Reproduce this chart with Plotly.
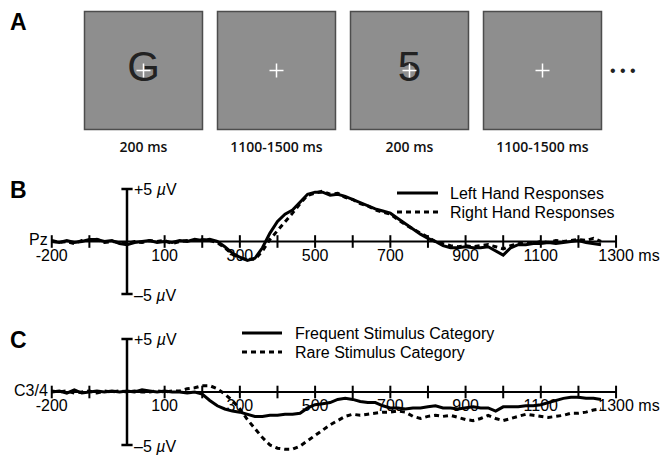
import plotly.graph_objects as go

# ---------------- data ----------------
# Panel A: trial sequence
screen_index = [0, 1, 2, 3]
screen_stimuli = ["G", "", "5", ""]
screen_durations = ["200 ms", "1100-1500 ms", "200 ms", "1100-1500 ms"]

# Panels B / C: ERP waveforms (ms, microvolts)
times = [-200, -180, -160, -140, -120, -100, -80, -60, -40, -20,
         0, 20, 40, 60, 80, 100, 120, 140, 160, 180,
         200, 220, 240, 260, 280, 300, 320, 340, 360, 380,
         400, 420, 440, 460, 480, 500, 520, 540, 560, 580,
         600, 620, 640, 660, 680, 700, 720, 740, 760, 780,
         800, 820, 840, 860, 880, 900, 920, 940, 960, 980,
         1000, 1020, 1040, 1060, 1080, 1100, 1120, 1140, 1160, 1180,
         1200, 1220, 1240, 1260]

pz_left_hand = [0.0, -0.1, 0.1, -0.1, 0.0, 0.2, 0.2, 0.0, 0.1, -0.2,
                -0.3, -0.1, 0.0, 0.1, -0.1, 0.0, -0.1, 0.1, 0.0, 0.2,
                0.1, 0.2, 0.0, -0.5, -1.1, -1.5, -1.8, -1.6, -0.6, 0.8,
                1.9, 2.6, 3.0, 3.8, 4.5, 4.7, 4.7, 4.4, 4.5, 4.3,
                4.0, 3.7, 3.4, 3.1, 2.9, 2.7, 2.2, 1.7, 1.2, 0.7,
                0.3, 0.0, -0.4, -0.6, -0.6, -0.5, -0.6, -0.6, -0.5, -0.9,
                -1.3, -0.6, -0.3, -0.3, -0.2, -0.2, -0.1, -0.2, -0.1, 0.0,
                0.1, -0.1, -0.2, -0.3]

pz_right_hand = [0.1, -0.1, 0.0, -0.2, 0.1, 0.1, 0.2, -0.1, 0.0, -0.1,
                 -0.2, 0.0, -0.1, 0.1, 0.0, 0.1, -0.2, 0.0, 0.1, 0.1,
                 0.2, 0.1, -0.1, -0.6, -1.2, -1.6, -1.7, -1.7, -0.9, 0.2,
                 1.0, 1.9, 2.7, 3.6, 4.4, 4.6, 4.8, 4.5, 4.6, 4.2,
                 4.0, 3.6, 3.4, 3.0, 2.8, 2.6, 2.1, 1.6, 1.2, 0.8,
                 0.4, 0.0, -0.2, -0.4, -0.5, -0.4, -0.5, -0.4, -0.3, -0.5,
                 -0.7, -0.4, -0.2, -0.1, -0.2, 0.0, -0.1, 0.1, 0.0, 0.1,
                 0.2, 0.1, 0.3, 0.0]

c34_frequent = [0.0, 0.1, -0.1, 0.2, -0.1, 0.0, 0.1, 0.0, 0.1, 0.0,
                0.1, 0.0, 0.2, 0.1, 0.0, 0.1, 0.0, 0.0, -0.1, 0.0,
                -0.2, -0.8, -1.3, -1.6, -1.8, -1.9, -2.1, -2.3, -2.3, -2.2,
                -2.2, -2.1, -2.1, -2.0, -1.5, -1.2, -1.1, -1.0, -0.7, -0.6,
                -0.7, -0.9, -1.0, -1.0, -1.3, -1.5, -1.5, -1.6, -1.5, -1.5,
                -1.4, -1.3, -1.5, -1.5, -1.6, -1.5, -1.4, -1.5, -1.5, -1.8,
                -1.4, -1.4, -1.4, -1.3, -1.3, -1.2, -1.0, -0.8, -0.6, -0.5,
                -0.5, -0.6, -0.6, -0.7]

c34_rare = [0.1, 0.0, 0.1, -0.1, 0.0, 0.1, -0.1, 0.1, 0.0, 0.1,
            0.0, 0.1, 0.0, 0.0, 0.1, 0.0, 0.1, 0.1, 0.3, 0.4,
            0.6, 0.6, 0.3, -0.2, -0.8, -1.6, -2.6, -3.5, -4.3, -5.0,
            -5.3, -5.4, -5.4, -5.1, -4.6, -4.1, -3.6, -3.1, -2.7, -2.3,
            -2.1, -2.2, -2.1, -2.0, -1.9, -1.9, -1.8, -1.9, -2.3, -2.5,
            -2.3, -2.2, -2.3, -2.2, -2.4, -2.6, -2.7, -2.5, -2.2, -2.5,
            -2.7, -2.5, -2.3, -2.1, -2.2, -2.3, -2.4, -2.3, -2.2, -2.0,
            -2.0, -1.9, -1.7, -1.6]

tick_ms = [-200, -100, 0, 100, 200, 300, 400, 500, 600, 700,
           800, 900, 1000, 1100, 1200, 1300]
label_ms = [-200, 100, 300, 500, 700, 900, 1100, 1300]
label_text = ["-200", "100", "300", "500", "700", "900", "1100",
              "<span style='color:rgba(0,0,0,0)'>ms </span>1300 ms"]
axis_span_ms = [-200, 1300]
volt_span = [-5, 5]

# ---------------- layout geometry ----------------
W, H = 661, 456
FONT = "Liberation Sans, Arial, sans-serif"
PX0, PX_PER_MS = 127.0, 0.3762           # x position of 0 ms, scale
x_range = [-PX0 / PX_PER_MS, (W - PX0) / PX_PER_MS]


def py(p):
    return 1 - p / H


def yaxis_for(zero_px, px_per_uv, top_px, bot_px):
    return dict(domain=[py(bot_px), py(top_px)],
                range=[(zero_px - bot_px) / px_per_uv, (zero_px - top_px) / px_per_uv],
                visible=False, fixedrange=True, automargin=False)


panels = [
    dict(x="x", y="y", xa="xaxis", ya="yaxis", zero=241.5, ppu=10.5,
         top=165, bot=312, chan="Pz",
         series=[("Left Hand Responses", pz_left_hand, "solid"),
                 ("Right Hand Responses", pz_right_hand, "5px,4px")],
         leg_line=(397, 438), leg_text=448, leg_rows=(193, 212)),
    dict(x="x2", y="y2", xa="xaxis2", ya="yaxis2", zero=392.0, ppu=10.6,
         top=318, bot=456, chan="C3/4",
         series=[("Frequent Stimulus Category", c34_frequent, "solid"),
                 ("Rare Stimulus Category", c34_rare, "5px,4px")],
         leg_line=(242, 282), leg_text=293, leg_rows=(333, 352)),
]

fig = go.Figure()
layout = dict(width=W, height=H, margin=dict(l=0, r=0, t=0, b=0, autoexpand=False),
              paper_bgcolor="white", plot_bgcolor="rgba(0,0,0,0)",
              font=dict(family=FONT, size=16, color="black"),
              showlegend=False, annotations=[], shapes=[])

for p in panels:
    layout[p["ya"]] = yaxis_for(p["zero"], p["ppu"], p["top"], p["bot"])
    layout[p["xa"]] = dict(domain=[0, 1], range=x_range, anchor="free",
                           position=py(p["zero"]), showline=False, showgrid=False,
                           zeroline=False, ticks="", tickvals=label_ms,
                           ticktext=label_text, tickfont=dict(size=16, family=FONT),
                           ticklabelstandoff=2, fixedrange=True, automargin=False)
    # horizontal time axis with crossing ticks
    fig.add_trace(go.Scatter(x=axis_span_ms, y=[0, 0], mode="lines",
                             line=dict(color="black", width=2), xaxis=p["x"], yaxis=p["y"],
                             showlegend=False, hoverinfo="skip"))
    fig.add_trace(go.Scatter(x=tick_ms, y=[0] * len(tick_ms), mode="markers",
                             marker=dict(symbol="line-ns", size=9,
                                         line=dict(color="black", width=2)),
                             xaxis=p["x"], yaxis=p["y"], showlegend=False, hoverinfo="skip"))
    # vertical voltage axis
    fig.add_trace(go.Scatter(x=[0, 0], y=volt_span, mode="lines+markers",
                             line=dict(color="black", width=2.5),
                             marker=dict(symbol="line-ew", size=8,
                                         line=dict(color="black", width=2.5)),
                             xaxis=p["x"], yaxis=p["y"], showlegend=False, hoverinfo="skip"))
    # waveforms + hand-placed legend keys
    for (name, vals, dash), row in zip(p["series"], p["leg_rows"]):
        fig.add_trace(go.Scatter(x=times, y=vals, mode="lines", name=name,
                                 line=dict(color="black", width=3, dash=dash),
                                 xaxis=p["x"], yaxis=p["y"]))
        layout["shapes"].append(dict(type="line", xref="paper", yref="paper",
                                     x0=p["leg_line"][0] / W, x1=p["leg_line"][1] / W,
                                     y0=py(row), y1=py(row),
                                     line=dict(color="black", width=3, dash=dash)))
        layout["annotations"].append(dict(x=p["leg_text"] / W, y=py(row), xref="paper",
                                          yref="paper", text=name, showarrow=False,
                                          xanchor="left", yanchor="middle",
                                          font=dict(size=16)))
    layout["annotations"] += [
        dict(x=0, y=volt_span[1], xref=p["x"], yref=p["y"], text="+5 <i>µ</i>V",
             showarrow=False, xanchor="left", yanchor="middle", xshift=5,
             font=dict(size=16)),
        dict(x=0, y=volt_span[0], xref=p["x"], yref=p["y"], text="–5 <i>µ</i>V",
             showarrow=False, xanchor="left", yanchor="middle", xshift=5, yshift=-1,
             font=dict(size=16)),
        dict(x=axis_span_ms[0], y=0, xref=p["x"], yref=p["y"], text=p["chan"],
             showarrow=False, xanchor="right", yanchor="middle", xshift=-2, yshift=2,
             font=dict(size=16)),
    ]

# ---------------- panel A ----------------
SQ_C0, SQ_STEP, SQ_CY = 143.5, 133.0, 70.5
layout["xaxis3"] = dict(domain=[0, 1], range=[-SQ_C0 / SQ_STEP, (W - SQ_C0) / SQ_STEP],
                        anchor="y3", showline=False, showgrid=False, zeroline=False,
                        ticks="", tickvals=screen_index, ticktext=screen_durations,
                        tickfont=dict(family="Open Sans, sans-serif", size=14,
                                      weight=600, color="#111"),
                        ticklabelstandoff=4, fixedrange=True, automargin=False)
layout["yaxis3"] = dict(domain=[py(133), py(8)], range=[-(133 - SQ_CY), SQ_CY - 8],
                        visible=False, fixedrange=True, automargin=False)

fig.add_trace(go.Scatter(x=screen_index, y=[0, 0, 0, 0], mode="markers",
                         marker=dict(symbol="square", size=118, color="#8e8e8e",
                                     line=dict(color="#4d4d4d", width=1.5)),
                         xaxis="x3", yaxis="y3", showlegend=False, hoverinfo="skip"))
fig.add_trace(go.Scatter(x=screen_index, y=[0, 0, 0, 0], mode="text",
                         text=screen_stimuli, textposition="middle center",
                         textfont=dict(family=FONT, size=42, color="#222"),
                         xaxis="x3", yaxis="y3", showlegend=False, hoverinfo="skip"))
fig.add_trace(go.Scatter(x=screen_index, y=[0, 0, 0, 0], mode="markers",
                         marker=dict(symbol="cross-thin", size=10,
                                     line=dict(color="white", width=1.5)),
                         xaxis="x3", yaxis="y3", showlegend=False, hoverinfo="skip"))

layout["annotations"] += [
    dict(x=623 / W, y=py(70), xref="paper", yref="paper", text="• • •", showarrow=False,
         xanchor="center", yanchor="middle", font=dict(size=16, color="#222")),
    dict(x=18 / W, y=py(22), xref="paper", yref="paper", text="<b>A</b>", showarrow=False,
         xanchor="center", yanchor="middle", font=dict(size=23)),
    dict(x=18 / W, y=py(190), xref="paper", yref="paper", text="<b>B</b>", showarrow=False,
         xanchor="center", yanchor="middle", font=dict(size=23)),
    dict(x=18 / W, y=py(340), xref="paper", yref="paper", text="<b>C</b>", showarrow=False,
         xanchor="center", yanchor="middle", font=dict(size=23)),
]

fig.update_layout(**layout)
fig.write_html("out.html", config={"displayModeBar": False},
               post_script="document.body.style.margin='0px';"
                           "document.body.style.overflow='hidden';")
